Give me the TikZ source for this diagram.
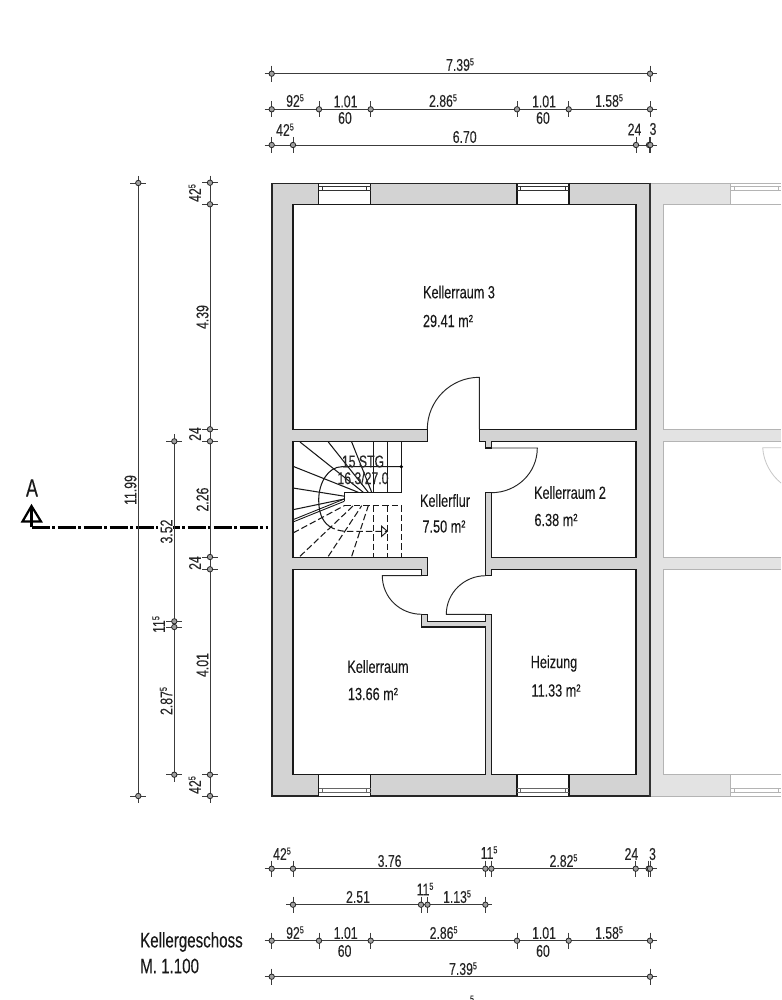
\documentclass[tikz,border=0pt]{standalone}
\usepackage{fontspec}
\setmainfont[FakeStretch=0.72,FakeBold=0.1]{Liberation Sans}
\usetikzlibrary{arrows.meta}
\definecolor{wallgrey}{HTML}{D3D3D3}
\definecolor{nbfill}{HTML}{E3E3E3}
\definecolor{nbline}{HTML}{B4B4B4}
\definecolor{dimline}{HTML}{3C3C3C}
\newcommand{\sx}[1]{\smash{\raisebox{5.5pt}{\fontsize{10}{10}\selectfont #1}}}
\tikzset{
  dimline/.style={draw=dimline,line width=.95pt},
  dimtick/.style={draw=dimline,line width=.9pt},
  dimdot/.style={draw=black!85,fill=gray!75,line width=.8pt},
  dimtext/.style={inner sep=0pt,font=\fontsize{17}{17}\selectfont,text=black!85},
  roomtext/.style={inner sep=0pt,font=\fontsize{17.6}{18}\selectfont,text=black!90},
  plan/.style={line width=1.2pt,draw=black!90},
  nb/.style={line width=1pt,draw=nbline},
}
\newcommand{\hchain}[4]{% y, x start, x end, ticks
  \draw[dimline] (#2-7,#1) -- (#3+7,#1);
  \foreach \tx in {#4}{
    \draw[dimtick] (\tx,#1-8) -- (\tx,#1+8);
    \draw[dimdot] (\tx,#1) circle[radius=2.7pt];
  }}
\newcommand{\vchain}[4]{% x, y start, y end, ticks
  \draw[dimline] (#1,#2-7) -- (#1,#3+7);
  \foreach \ty in {#4}{
    \draw[dimtick] (#1-8,\ty) -- (#1+8,\ty);
    \draw[dimdot] (#1,\ty) circle[radius=2.7pt];
  }}
\newcommand{\winframe}[4]{% x1, y1, y2, colour : sash lines
  \draw[line width=.8pt,draw=#4] (#1,#2) -- (#1+52,#2) (#1,#3) -- (#1+52,#3)
    (#1+3.8,#2) -- (#1+3.8,#3) (#1+48,#2) -- (#1+48,#3);}
\begin{document}
\begin{tikzpicture}[x=1pt,y=-1pt]
\useasboundingbox (0,0) rectangle (781,1000);
\fill[white] (0,0) rectangle (781,1000);
% --- neighbouring house (greyed)
\fill[nbfill] (650,183.3) rectangle (781,796);
\fill[white] (663.5,204.5) rectangle (781,429.3);
\fill[white] (663.5,441.3) rectangle (781,557);
\fill[white] (663.5,569.3) rectangle (781,774.7);
\fill[white] (730.7,183.8) rectangle (781,204.5);
\fill[white] (730.7,774.7) rectangle (781,795.5);
\draw[nb] (650,183.3) -- (781,183.3);
\draw[nb] (650,796) -- (781,796);
\draw[nb] (781,204.5) -- (663.5,204.5) -- (663.5,429.3) -- (781,429.3);
\draw[nb] (781,441.3) -- (663.5,441.3) -- (663.5,557) -- (781,557);
\draw[nb] (781,569.3) -- (663.5,569.3) -- (663.5,774.7) -- (781,774.7);
\draw[nb] (730.7,183.3) -- (730.7,204.5) (730.7,774.7) -- (730.7,796);
\draw[line width=.8pt,draw=nbline] (730.7,186) -- (781,186) (730.7,190.7) -- (781,190.7)
  (734.5,186) -- (734.5,190.7) (778,186) -- (778,190.7);
\draw[line width=.8pt,draw=nbline] (730.7,788.7) -- (781,788.7) (730.7,792.7) -- (781,792.7)
  (734.5,788.7) -- (734.5,792.7) (778,788.7) -- (778,792.7);
\draw[line width=.8pt,draw=black!22] (781,447.7) -- (762.7,447.7) .. controls (763.5,462) and (771,475) .. (781,483);
% --- walls
\fill[wallgrey] (272,183.3) rectangle (650,796);
% rooms and corridor as one outline
\filldraw[plan,fill=white,line join=miter]
  (293,204.5) -- (636,204.5) -- (636,429.3) -- (479.3,429.3) -- (479.3,441.3) -- (485.3,441.3)
  -- (485.3,448) -- (491.3,448) -- (491.3,441.3) -- (636,441.3) -- (636,557.3) -- (491.3,557.3)
  -- (491.3,492.7) -- (485.3,492.7) -- (485.3,575.7) -- (491.3,575.7) -- (491.3,569.3)
  -- (636,569.3) -- (636,774.7) -- (491.5,774.7) -- (491.5,614.3) -- (485.7,614.3) -- (485.7,621.7)
  -- (427.7,621.7) -- (427.7,614.3) -- (421.7,614.3) -- (421.7,627) -- (485.7,627)
  -- (485.7,774.7) -- (293,774.7) -- (293,569.3) -- (421.7,569.3) -- (421.7,575.7) -- (427.7,575.7)
  -- (427.7,557.3) -- (293,557.3) -- (293,441.3) -- (427.3,441.3) -- (427.3,429.3) -- (293,429.3) -- cycle;
% outer wall
\draw[line width=1.2pt,draw=black!85] (650,183.3) -- (272,183.3) -- (272,796) -- (650,796);
\draw[line width=2.4pt,draw=black!80] (650,183) -- (650,796.5);
% windows
\foreach \wx in {318.7,517}{
  \fill[white] (\wx,183.8) rectangle (\wx+52,204.5);
  \fill[white] (\wx,774.7) rectangle (\wx+52,795.5);
  \draw[plan] (\wx,183.3) -- (\wx,204.5) (\wx+52,183.3) -- (\wx+52,204.5);
  \draw[plan] (\wx,774.7) -- (\wx,796) (\wx+52,774.7) -- (\wx+52,796);
  \draw[line width=.7pt,draw=black!85] (\wx,183.3) -- (\wx+52,183.3) (\wx,796) -- (\wx+52,796);
  \winframe{\wx}{186}{190.7}{black!80}
  \winframe{\wx}{788.7}{792.7}{black!60}
}
% doors
\draw[line width=.95pt,draw=black!85] (479.3,429.3) -- (479.3,377.3) .. controls (450.6,377.3) and (427.3,400.6) .. (427.3,429.3);
\draw[line width=.95pt,draw=black!85] (491.3,448) -- (537.3,448) .. controls (537.3,473) and (516.7,492.7) .. (491.3,492.7);
\draw[line width=.95pt,draw=black!85] (421.7,575.7) -- (382.3,575.7) .. controls (382.3,597.5) and (400,614.3) .. (421.7,614.3);
\draw[line width=.95pt,draw=black!85] (485.7,614.3) -- (446.3,614.3) .. controls (446.3,593) and (464,575.7) .. (485.7,575.7);
% --- stairs
\tikzset{stairsolid/.style={line width=1.05pt,draw=black!90},stairdash/.style={line width=1.05pt,draw=black!90,dash pattern=on 6.5pt off 3pt}}
\draw[stairsolid] (401.7,441.3) -- (401.7,492.3) -- (344.3,492.3) -- (344.3,501.3);
\draw[stairsolid] (373.3,441.3) -- (373.3,492.3) (387.3,441.3) -- (387.3,492.3);
\draw[stairsolid] (300,442) -- (363.3,492.3) (328.3,442) -- (368.3,492.3) (351.7,442) -- (371.7,492.3);
\draw[stairsolid] (293,466.3) -- (358.3,492.3) (293,488) -- (345,496.3) (293,509.7) -- (344.3,499);
\draw[line width=.9pt,draw=black!90] (293,519.7) -- (344.3,499) (293,522) -- (344.3,501.3);
\draw[stairdash] (344.3,505.7) -- (401.7,505.7) -- (401.7,557.3);
\draw[stairdash] (373.3,505.7) -- (373.3,557.3) (387.3,505.7) -- (387.3,557.3);
\draw[stairdash] (293,533) -- (344.3,505.7) (300,556.3) -- (353.3,505.7) (328.3,556.3) -- (361.7,505.7) (351.7,556.3) -- (368.3,505.7);
\draw[stairsolid] (401.7,466.7) -- (342,466.7) .. controls (328,466.7) and (318.7,483) .. (318.7,500) .. controls (318.7,512) and (322,521) .. (329,526);
\draw[stairdash] (329,526) .. controls (334,529.5) and (340,531.3) .. (347,531.3) -- (387,531.3);
\draw[line width=.95pt,draw=black!90] (381.7,526.3) -- (387.3,531.3) -- (381.7,536.3) -- cycle;
\fill[black] (401.3,466.7) circle[radius=1.8pt];
% --- room labels
\node[roomtext] (flur1) at (445,500.5) {Kellerflur};
\node[roomtext] (flur2) at (444,526.5) {7.50 m²};
\node[roomtext] (r3a) at (459,292) {Kellerraum 3};
\node[roomtext] (r3b) at (448,321) {29.41 m²};
\node[roomtext] (r2a) at (570,492.5) {Kellerraum 2};
\node[roomtext] (r2b) at (556,520) {6.38 m²};
\node[roomtext] (r1a) at (378,666.5) {Kellerraum};
\node[roomtext] (r1b) at (373,694) {13.66 m²};
\node[roomtext] (h1) at (554,663.5) {Heizung};
\node[roomtext] (h2) at (556,690.5) {11.33 m²};
\node[dimtext] (st1) at (363,461.5) {15 STG};
\node[dimtext] (st2) at (363,478) {16.3/27.0};
% --- section marker
\draw[line width=2.4pt,draw=black,dash pattern=on 18pt off 2.5pt on 3pt off 2.5pt] (31.5,527.3) -- (268,527.3);
\draw[line width=2.2pt,draw=black,line join=miter] (31.5,527.3) -- (31.5,506);
\draw[line width=2.2pt,draw=black,line join=miter] (22.5,521.5) -- (31.5,506) -- (41,521.5) -- cycle;
\node[inner sep=0pt,font=\fontsize{25}{25}\selectfont,text=black!90] (secA) at (32,488) {A};
% --- horizontal dimension chains, top
\hchain{73.7}{271.7}{650}{271.7,650}
\hchain{109.3}{271.7}{650}{271.7,319,370.7,517,568.7,650}
\hchain{145}{271.7}{650}{271.7,293,636,649,650.3}
\node[dimtext] (t1) at (460,65) {7.39\sx{5}};
\node[dimtext] (t2) at (295,101) {92\sx{5}};
\node[dimtext] (t3) at (345.5,101.5) {1.01};
\node[dimtext] (t4) at (345,118) {60};
\node[dimtext] (t5) at (443,101) {2.86\sx{5}};
\node[dimtext] (t6) at (544,101.5) {1.01};
\node[dimtext] (t7) at (543,118) {60};
\node[dimtext] (t8) at (609,101) {1.58\sx{5}};
\node[dimtext] (t9) at (285,130) {42\sx{5}};
\node[dimtext] (t10) at (464.7,137) {6.70};
\node[dimtext] (t11) at (634.5,129.5) {24};
\node[dimtext] (t12) at (653,129) {3};
% --- horizontal dimension chains, bottom
\hchain{868.7}{271.7}{650}{271.7,293,485.4,491.4,635.7,648.6,650}
\hchain{904.7}{293}{485.4}{293,421,427.5,485.4}
\hchain{940.7}{271.7}{650}{271.7,319,370.7,517,568.7,650}
\hchain{976.7}{271.7}{650}{271.7,650}
\node[dimtext] (b1) at (282,854) {42\sx{5}};
\node[dimtext] (b2) at (389.6,861) {3.76};
\node[dimtext] (b3) at (489,853) {11\sx{5}};
\node[dimtext] (b4) at (563.5,861) {2.82\sx{5}};
\node[dimtext] (b5) at (631.4,854) {24};
\node[dimtext] (b6) at (652.5,854) {3};
\node[dimtext] (b7) at (358,897) {2.51};
\node[dimtext] (b8) at (425,889.5) {11\sx{5}};
\node[dimtext] (b9) at (457,897) {1.13\sx{5}};
\node[dimtext] (b10) at (295,933) {92\sx{5}};
\node[dimtext] (b11) at (345.7,933) {1.01};
\node[dimtext] (b12) at (344.6,951) {60};
\node[dimtext] (b13) at (443.6,933) {2.86\sx{5}};
\node[dimtext] (b14) at (544,933) {1.01};
\node[dimtext] (b15) at (543,951) {60};
\node[dimtext] (b16) at (609,933) {1.58\sx{5}};
\node[dimtext] (b17) at (463,969) {7.39\sx{5}};
\node[inner sep=0pt,font=\fontsize{10}{10}\selectfont,text=black!85] (b18) at (472,999) {5};
% --- vertical dimension chains
\tikzset{vtext/.style={dimtext,rotate=90}}
\fill[white] (158,516) rectangle (173,545);
\vchain{138.3}{183}{796}{183,796}
\vchain{174.3}{441.3}{774.7}{441.3,621.3,627,774.7}
\vchain{210}{182.7}{796}{182.7,204.3,429.3,441.3,557,569.3,774.7,796}
\node[vtext] (v1) at (130.5,490) {11.99};
\node[vtext] (v2) at (166.5,531.5) {3.52};
\node[vtext] (v3) at (202.5,499.5) {2.26};
\node[vtext] (v4) at (202.5,317) {4.39};
\node[vtext] (v5) at (202.5,665) {4.01};
\node[vtext] (v6) at (195,434) {24};
\node[vtext] (v7) at (195,563) {24};
\node[vtext] (v8) at (195,193) {42\sx{5}};
\node[vtext] (v9) at (195,785) {42\sx{5}};
\node[vtext] (v10) at (159,624.5) {11\sx{5}};
\node[vtext] (v11) at (166.5,701) {2.87\sx{5}};
% --- title
\node[inner sep=0pt,anchor=west,font=\fontsize{21}{21}\selectfont,text=black!90] (title1) at (140,942) {Kellergeschoss};
\node[inner sep=0pt,anchor=west,font=\fontsize{21}{21}\selectfont,text=black!90] (title2) at (140,966) {M. 1.100};
\end{tikzpicture}
\end{document}
